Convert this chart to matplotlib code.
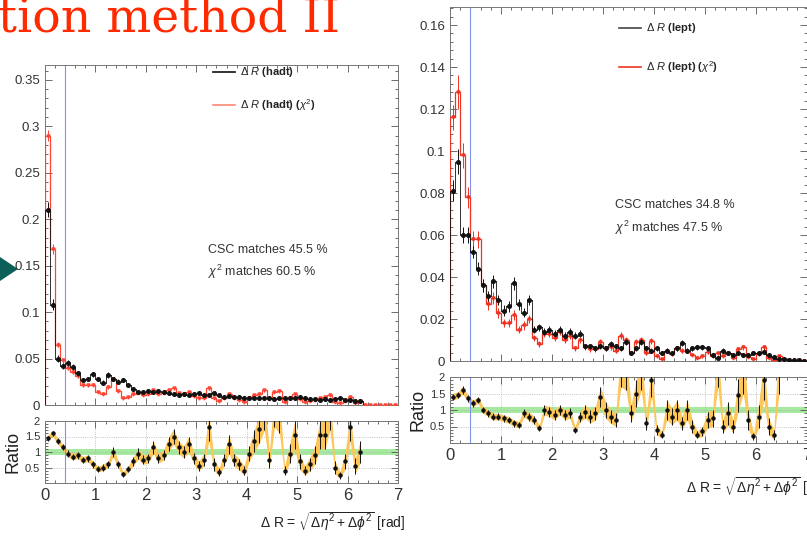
import numpy as np
import matplotlib
matplotlib.use("Agg")
import matplotlib.pyplot as plt
from matplotlib.patches import Polygon
from matplotlib.ticker import MultipleLocator, FixedLocator, FormatStrFormatter

# ---------------- data ----------------
bin_lo, bin_hi, n_bins = 0.0, 7.0, 70

left_black = [0.21,0.108,0.05,0.042,0.045,0.041,0.034,0.027,0.028,0.033,
              0.028,0.024,0.032,0.028,0.025,0.027,0.021,0.017,0.014,0.014,
              0.015,0.014,0.015,0.014,0.013,0.012,0.011,0.012,0.011,0.012,
              0.013,0.011,0.011,0.013,0.011,0.009,0.010,0.009,0.009,0.008,
              0.008,0.008,0.007,0.007,0.008,0.006,0.007,0.008,0.007,0.008,
              0.009,0.008,0.006,0.006,0.005,0.006,0.005,0.006,0.007,0.005,
              0.005,0.004,0.004]
left_black_err = [0.008,0.006,0.004,0.003,0.003,0.003,0.003,0.0025,0.0025,0.003,
                  0.0025,0.0025,0.003,0.0025,0.0025,0.0025,0.002,0.002,0.002,0.002,
                  0.002,0.002,0.002,0.002,0.002,0.002,0.0015,0.002,0.0015,0.002,
                  0.002,0.0015,0.0015,0.002,0.0015,0.0015,0.0015,0.0015,0.0015,0.0015,
                  0.0015,0.0015,0.0015,0.0015,0.0015,0.0012,0.0015,0.0015,0.0015,0.0015,
                  0.0015,0.0015,0.0012,0.0012,0.0012,0.0012,0.0012,0.0012,0.0015,0.0012,
                  0.0012,0.001,0.001]
left_red = [0.29,0.168,0.065,0.048,0.040,0.035,0.031,0.021,0.021,0.022,
            0.014,0.012,0.019,0.028,0.015,0.008,0.009,0.012,0.013,0.011,
            0.012,0.016,0.012,0.013,0.016,0.018,0.013,0.012,0.014,0.010,
            0.007,0.008,0.018,0.008,0.004,0.007,0.012,0.007,0.005,0.003,
            0.008,0.011,0.012,0.016,0.006,0.014,0.015,0.003,0.007,0.012,
            0.006,0.003,0.004,0.005,0.008,0.009,0.011,0.003,0.002,0.004,
            0.009,0.002,0.004,0,0,0,0,0,0,0]
left_red_err = [0.006,0.005,0.003,0.0025,0.0025,0.002,0.002,0.002,0.002,0.002,
                0.0015,0.0015,0.002,0.002,0.0015,0.001,0.001,0.0015,0.0015,0.0012,
                0.0015,0.0015,0.0012,0.0015,0.0015,0.0015,0.0012,0.0012,0.0015,0.0012,
                0.001,0.001,0.0015,0.001,0.0008,0.001,0.0012,0.001,0.0008,0.0007,
                0.001,0.0012,0.0012,0.0015,0.0008,0.0012,0.0012,0.0007,0.001,0.0012,
                0.0008,0.0007,0.0008,0.0008,0.001,0.001,0.0012,0.0007,0.0005,0.0008,
                0.001,0.0005,0.0008,0,0,0,0,0,0,0]
left_ratio = [1.45,1.6,1.35,1.15,0.95,0.85,0.9,0.75,0.8,0.6,
              0.45,0.5,0.6,1.0,0.6,0.28,0.45,0.7,0.95,0.75,
              0.8,1.15,0.8,0.9,1.25,1.5,1.15,1.0,1.25,0.8,
              0.55,0.75,1.8,0.6,0.35,0.75,1.25,0.75,0.6,0.4,
              0.95,1.35,1.75,2.3,0.75,2.4,2.2,0.4,0.95,1.55,
              0.7,0.4,0.6,0.9,1.55,1.55,2.3,0.5,0.25,0.7,
              1.8,0.55,1.0]
left_ratio_err = [0.08,0.09,0.09,0.1,0.1,0.1,0.11,0.1,0.11,0.1,
                  0.09,0.1,0.11,0.15,0.12,0.08,0.1,0.14,0.18,0.15,
                  0.15,0.2,0.15,0.17,0.22,0.25,0.2,0.2,0.25,0.18,
                  0.15,0.2,0.45,0.2,0.12,0.2,0.3,0.2,0.18,0.15,
                  0.25,0.35,0.45,0.6,0.25,0.6,0.6,0.15,0.3,0.45,
                  0.25,0.15,0.22,0.3,0.45,0.45,0.6,0.2,0.12,0.25,
                  0.45,0.25,0.35]

right_black = [0.081,0.095,0.060,0.060,0.052,0.044,0.036,0.031,0.038,0.029,
               0.024,0.026,0.037,0.027,0.023,0.029,0.015,0.016,0.014,0.015,
               0.013,0.015,0.012,0.014,0.012,0.013,0.007,0.007,0.006,0.007,
               0.006,0.008,0.007,0.006,0.009,0.004,0.006,0.009,0.006,0.005,
               0.006,0.004,0.005,0.004,0.006,0.0085,0.005,0.006,0.0065,0.0065,
               0.006,0.003,0.0015,0.005,0.004,0.003,0.004,0.003,0.003,0.004,
               0.004,0.0045,0.003,0.002,0.001,0.0008,0.0003,0.0006,0.0003,0.0002]
right_black_err = [0.005,0.006,0.004,0.004,0.003,0.003,0.003,0.0025,0.003,0.0025,
                   0.0025,0.0025,0.003,0.0025,0.0022,0.0025,0.0018,0.0018,0.0017,0.0018,
                   0.0017,0.0018,0.0016,0.0017,0.0016,0.0017,0.0012,0.0012,0.0011,0.0012,
                   0.0011,0.0013,0.0012,0.0011,0.0014,0.0009,0.0011,0.0014,0.0011,0.001,
                   0.0011,0.0009,0.001,0.0009,0.0011,0.0013,0.001,0.0011,0.0012,0.0012,
                   0.0011,0.0008,0.0006,0.001,0.0009,0.0008,0.0009,0.0008,0.0008,0.0009,
                   0.0009,0.001,0.0008,0.0006,0.0004,0.0004,0.0002,0.0003,0.0002,0.0002]
right_red = [0.116,0.128,0.098,0.078,0.058,0.058,0.036,0.027,0.030,0.023,
             0.018,0.018,0.022,0.015,0.017,0.020,0.011,0.008,0.013,0.013,
             0.011,0.014,0.010,0.012,0.006,0.010,0.0065,0.0055,0.0055,0.009,
             0.006,0.0065,0.005,0.012,0.010,0.0036,0.009,0.010,0.0036,0.0095,
             0.0024,0.001,0.005,0.0032,0.006,0.005,0.005,0.003,0.0016,0.0023,
             0.0042,0.0023,0.0036,0.0025,0.0036,0.0015,0.0058,0.0066,0.0021,0.0008,
             0.0032,0.0065,0.0015,0.0005,0.0023,0.0003,0.0003,0.0002,0.0001,0.0001]
right_red_err = [0.006,0.008,0.006,0.005,0.004,0.004,0.003,0.0025,0.0028,0.0024,
                 0.002,0.002,0.0023,0.0018,0.002,0.0021,0.0015,0.0013,0.0017,0.0017,
                 0.0015,0.0017,0.0014,0.0016,0.0011,0.0014,0.0012,0.0011,0.0011,0.0014,
                 0.0011,0.0012,0.001,0.0016,0.0014,0.0008,0.0014,0.0014,0.0008,0.0014,
                 0.0007,0.0005,0.001,0.0008,0.0011,0.001,0.001,0.0008,0.0006,0.0007,
                 0.0009,0.0007,0.0008,0.0007,0.0008,0.0006,0.0011,0.0012,0.0007,0.0004,
                 0.0008,0.0012,0.0006,0.0003,0.0007,0.0002,0.0002,0.0002,0.0001,0.0001]
right_ratio = [1.4,1.45,1.6,1.35,1.2,1.3,1.0,0.9,0.8,0.8,
               0.75,0.7,0.6,0.55,0.9,0.8,0.7,0.45,1.0,0.95,
               0.85,1.0,0.85,0.9,0.4,0.8,0.95,0.8,0.9,1.4,
               1.0,0.8,0.7,2.3,2.2,0.9,1.5,2.2,0.6,1.9,
               0.4,0.25,1.0,0.8,1.0,0.6,1.0,0.5,0.25,0.35,
               0.7,0.75,2.4,0.5,0.9,0.5,1.45,2.2,0.7,0.2,
               0.8,1.9,0.5,0.25,2.3]
right_ratio_err = [0.1,0.1,0.12,0.1,0.1,0.1,0.1,0.1,0.1,0.1,
                   0.1,0.1,0.1,0.1,0.12,0.12,0.12,0.1,0.15,0.15,
                   0.15,0.15,0.15,0.15,0.1,0.15,0.2,0.2,0.2,0.3,
                   0.25,0.2,0.2,0.6,0.6,0.25,0.4,0.6,0.2,0.5,
                   0.15,0.1,0.3,0.25,0.3,0.2,0.3,0.2,0.1,0.15,
                   0.25,0.25,0.7,0.2,0.35,0.2,0.5,0.7,0.3,0.1,
                   0.35,0.6,0.25,0.15,0.8]

cut_value = 0.4
left_labels = ["$\\Delta$ $\\mathbf{\\mathit{R}}$ (hadt)", "$\\Delta$ $\\mathbf{\\mathit{R}}$ (hadt) ($\\chi^2$)"]
right_labels = ["$\\Delta$ $\\mathbf{\\mathit{R}}$ (lept)", "$\\Delta$ $\\mathbf{\\mathit{R}}$ (lept) ($\\chi^2$)"]
left_texts = ["CSC matches 45.5 %", "$\\chi^2$ matches 60.5 %"]
right_texts = ["CSC matches 34.8 %", "$\\chi^2$ matches 47.5 %"]
title = "tion method II"
xlabel = "$\\Delta$ R = $\\sqrt{\\Delta\\eta^2+\\Delta\\phi^2}$ [rad]"

# ---------------- figure ----------------
W, H = 807, 537
plt.rcParams['font.family'] = ['Liberation Sans', 'DejaVu Sans']
plt.rcParams['mathtext.fontset'] = 'custom'
plt.rcParams['mathtext.rm'] = 'Liberation Sans'
plt.rcParams['mathtext.it'] = 'Liberation Sans:italic'
plt.rcParams['mathtext.bf'] = 'Liberation Sans:bold'
fig = plt.figure(figsize=(W / 100, H / 100), dpi=100)

def box(l, t, r, b):
    return [l / W, 1 - b / H, (r - l) / W, (b - t) / H]

def px(x, y):
    return (x / W, 1 - y / H)

edges = np.linspace(bin_lo, bin_hi, n_bins + 1)
centers = 0.5 * (edges[:-1] + edges[1:])
half = 0.5 * (edges[1] - edges[0])

BLACK = '#111111'
RED = '#ee3322'
BAND = '#fcc65a'
GREEN = '#a6eaa0'
BLUE = '#8191ee'
FRAME = '#777777'

def style(ax, labelsize):
    ax.set_xlim(bin_lo, bin_hi)
    ax.tick_params(which='both', direction='in', top=True, right=True,
                   width=0.6, color='#555555', labelsize=labelsize, labelcolor='#333333')
    ax.tick_params(which='major', length=5)
    ax.tick_params(which='minor', length=2.5)
    ax.xaxis.set_major_locator(MultipleLocator(1))
    ax.xaxis.set_minor_locator(MultipleLocator(0.2))
    for s in ax.spines.values():
        s.set_linewidth(0.7)
        s.set_color(FRAME)

def draw_main(ax, black, black_err, red, red_err, ymax, major, minor, red_color):
    style(ax, 9.5)
    ax.set_ylim(0, ymax)
    ax.yaxis.set_major_locator(MultipleLocator(major))
    ax.yaxis.set_minor_locator(MultipleLocator(minor))
    ax.yaxis.set_major_formatter(FormatStrFormatter('%g'))
    ax.tick_params(labelbottom=False)
    nr = len(red)
    ax.stairs(red, edges[:nr + 1], color=red_color, lw=0.9, zorder=3)
    ax.errorbar(centers[:nr], red, yerr=red_err, fmt='v', ms=2.2, color=red_color,
                elinewidth=0.7, capsize=0, zorder=3)
    nb = len(black)
    ax.stairs(black, edges[:nb + 1], color=BLACK, lw=0.6, zorder=4)
    ax.errorbar(centers[:nb], black, yerr=black_err, xerr=half, fmt='o', ms=2.6,
                color=BLACK, elinewidth=0.7, capsize=0, zorder=4)
    ax.axvline(cut_value, color=BLUE, lw=0.8, zorder=2)

def draw_ratio(ax, ratio, ratio_err):
    style(ax, 12)
    ax.set_ylim(0, 2)
    ax.yaxis.set_major_locator(FixedLocator([0.5, 1, 1.5, 2]))
    ax.yaxis.set_minor_locator(MultipleLocator(0.1))
    ax.yaxis.set_major_formatter(FormatStrFormatter('%g'))
    ax.tick_params(axis='y', labelsize=8)
    ax.grid(True, which='major', color='#b0b0b0', lw=0.6, ls=':')
    ax.axhspan(0.9, 1.1, color=GREEN, lw=0, zorder=1)
    n = len(ratio)
    r = np.array(ratio)
    e = np.array(ratio_err)
    ax.fill_between(centers[:n], r - e, r + e, color=BAND, lw=0, zorder=2)
    ax.errorbar(centers[:n], r, yerr=e, fmt='o', ms=2.2, color=BLACK,
                elinewidth=0.7, capsize=0, zorder=3)
    ax.axvline(cut_value, color=BLUE, lw=0.8, zorder=2)
    ax.set_ylabel('Ratio', fontsize=13, color='#222222', labelpad=2)

# left panel
axL = fig.add_axes(box(45, 65, 398, 405))
draw_main(axL, left_black, left_black_err, left_red, left_red_err, 0.366, 0.05, 0.01, '#ff4433')
axLr = fig.add_axes(box(45, 421, 398, 483))
draw_ratio(axLr, left_ratio, left_ratio_err)

# right panel
axR = fig.add_axes(box(450, 7, 807, 361))
draw_main(axR, right_black, right_black_err, right_red, right_red_err, 0.1686, 0.02, 0.004, RED)
axRr = fig.add_axes(box(450, 377, 807, 443))
draw_ratio(axRr, right_ratio, right_ratio_err)

# x labels
fig.text(*px(405, 522), xlabel, ha='right', va='center', fontsize=10, color='#222222')
fig.text(*px(686, 487), xlabel, ha='left', va='center', fontsize=10, color='#222222')

# legends (drawn by hand like the ROOT legend)
def legend(x0, x1, xt, ys, colors, labels):
    for y, c, lab in zip(ys, colors, labels):
        fig.add_artist(plt.Line2D([x0 / W, x1 / W], [1 - y / H, 1 - y / H], color=c, lw=1.2,
                                  transform=fig.transFigure))
        fig.text(*px(xt, y), lab, ha='left', va='center', fontsize=8, fontweight='bold',
                 color='#222222')

legend(213, 235, 240, [72, 105], [BLACK, '#ff8877'], left_labels)
legend(619, 641, 646, [28, 67], ['#444444', RED], right_labels)

for y, t in zip([250, 272], left_texts):
    fig.text(*px(208, y), t, ha='left', va='center', fontsize=9, color='#333333')
for y, t in zip([205, 228], right_texts):
    fig.text(*px(615, y), t, ha='left', va='center', fontsize=9, color='#333333')

# slide title fragment and arrow marker
fig.text(*px(-2, 32), title, ha='left', va='baseline', fontsize=34,
         family='DejaVu Serif', color='#ff2a00')
fig.add_artist(Polygon([px(0, 257), px(0, 281), px(18, 269)], closed=True,
                       transform=fig.transFigure, color='#0d5f59', lw=0))

fig.savefig('out.png', dpi=100)
